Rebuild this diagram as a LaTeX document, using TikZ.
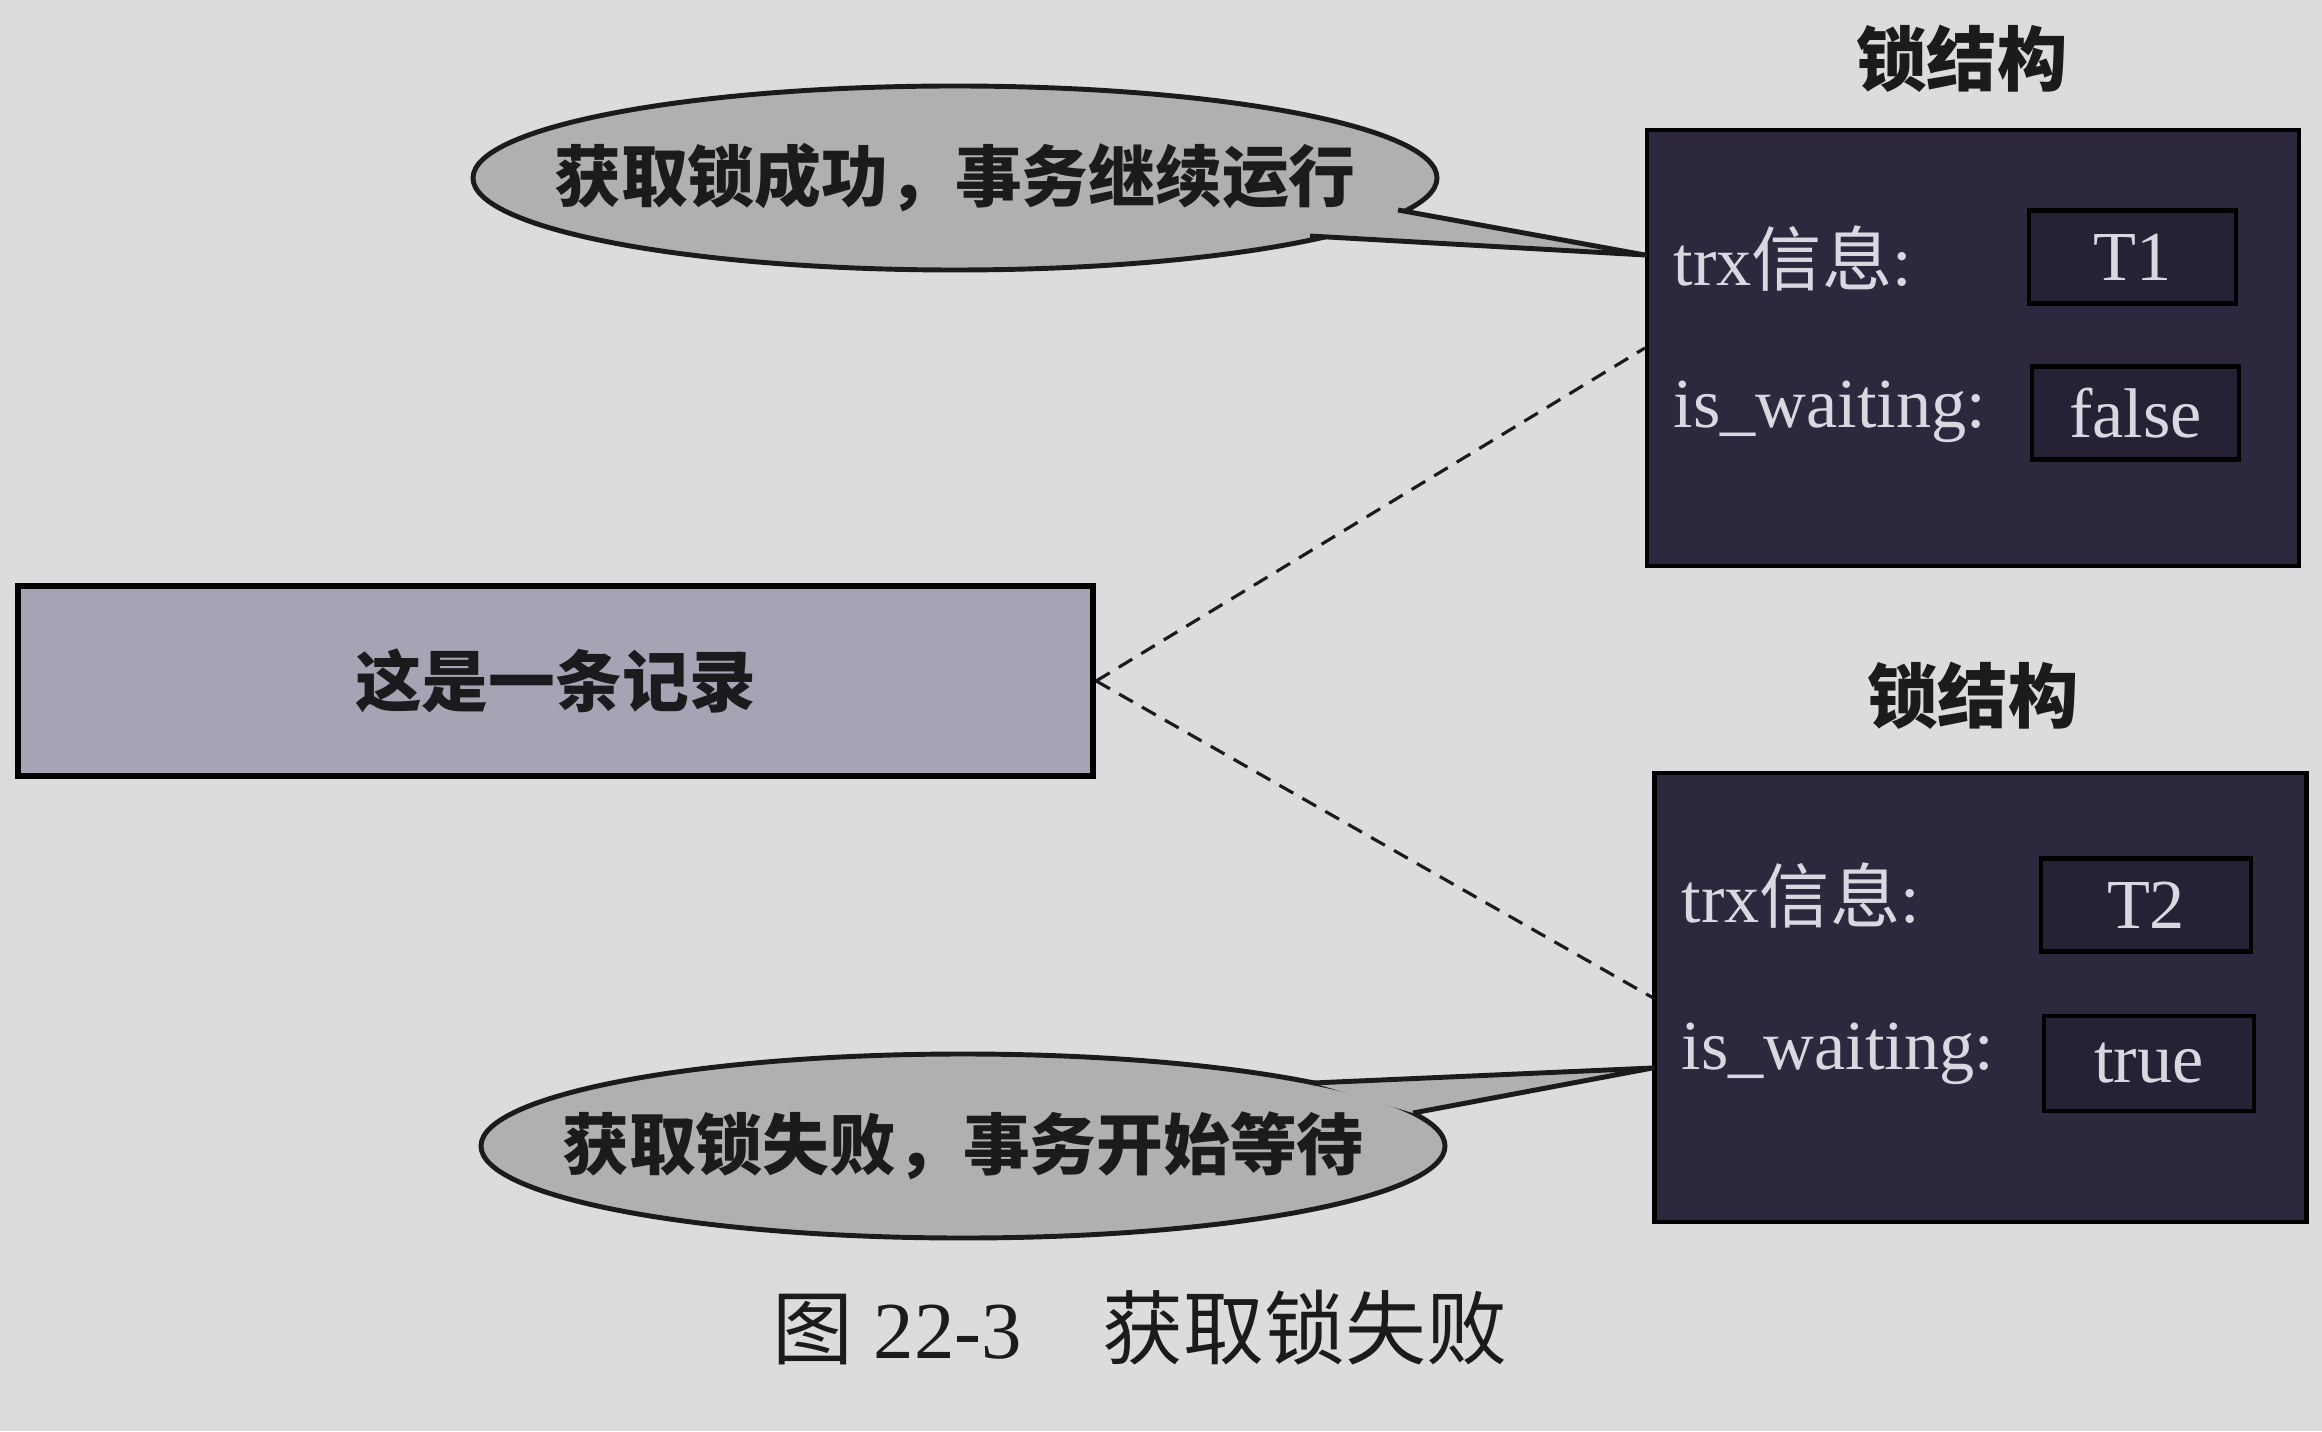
\documentclass[tikz,border=0pt]{standalone}
\usepackage{fontspec}
\setmainfont{Liberation Serif}
\newfontfamily\cjk{Noto Sans CJK SC}
\usetikzlibrary{calc, shapes.geometric, positioning}

\definecolor{paper}{RGB}{222,219,222}
\definecolor{lockfill}{RGB}{46,40,62}
\definecolor{slotfill}{RGB}{38,33,52}
\definecolor{locktext}{RGB}{218,215,224}
\definecolor{recfill}{RGB}{168,163,180}
\definecolor{bubfill}{RGB}{178,175,178}
\definecolor{ink}{RGB}{28,26,28}

\begin{document}
\begin{tikzpicture}[
    lockbox/.style={draw=black, line width=1.2pt, fill=lockfill, minimum width=6.52cm, minimum height=4.36cm, inner sep=0},
    slot/.style={draw=black, line width=1.3pt, fill=slotfill, minimum width=2.07cm, minimum height=0.93cm, inner sep=0, text=locktext, font=\fontsize{20}{20}\selectfont},
    field/.style={anchor=west, inner sep=0, text=locktext, font=\fontsize{20}{20}\selectfont},
    locktitle/.style={font=\cjk\bfseries\fontsize{20}{20}\selectfont, text=ink},
    record/.style={draw=black, line width=1.8pt, fill=recfill, minimum width=10.75cm, minimum height=1.90cm, inner sep=0, text=ink, font=\cjk\bfseries\fontsize{19}{19}\selectfont},
    bubble/.style={ellipse, draw=ink, line width=1.4pt, fill=bubfill, minimum width=9.64cm, minimum height=1.84cm, inner sep=0},
    bubtext/.style={font=\cjk\bfseries\fontsize{19}{19}\selectfont, text=ink},
    tail/.style={draw=ink, line width=1.4pt, line join=round},
    link/.style={draw=ink, line width=0.9pt, dash pattern=on 4.5pt off 3pt}
]

    % ==========================================
    % PAGE
    % ==========================================
    \fill[paper] (0,0) rectangle (23.22,14.31);
    \useasboundingbox (0,0) rectangle (23.22,14.31);

    % ==========================================
    % RECORD (LEFT)
    % ==========================================
    \node[record] (rec) at (5.555,7.50) {这是一条记录};

    % ==========================================
    % LOCK STRUCTURE T1 (TOP RIGHT)
    % ==========================================
    \node[locktitle] (titleA) at (19.62,13.72) {锁结构};
    \node[lockbox] (lockA) at (19.73,10.83) {};
    \node[field] (trxA) at (16.73,11.72) {trx{\cjk 信息}:};
    \node[field] (waitA) at (16.73,10.19) {is\_waiting:};
    \node[slot] (trxvalA) at (21.325,11.74) {T1};
    \node[slot] (waitvalA) at (21.355,10.18) {false};

    % ==========================================
    % LOCK STRUCTURE T2 (BOTTOM RIGHT)
    % ==========================================
    \node[locktitle] (titleB) at (19.73,7.35) {锁结构};
    \node[lockbox, minimum height=4.49cm] (lockB) at (19.805,4.335) {};
    \node[field] (trxB) at (16.81,5.35) {trx{\cjk 信息}:};
    \node[field] (waitB) at (16.81,3.77) {is\_waiting:};
    \node[slot, minimum width=2.1cm] (trxvalB) at (21.46,5.26) {T2};
    \node[slot, minimum width=2.1cm, minimum height=0.95cm] (waitvalB) at (21.49,3.675) {true};

    % Dashed links from the record to both locks
    \draw[link] (rec.east) -- (lockA.west);
    \draw[link] (rec.east) -- (lockB.west);

    % ==========================================
    % CALLOUTS
    % ==========================================
    % Success bubble, tail pointing at the trx line of T1
    \node[bubble] (okbub) at (9.55,12.53) {};
    \coordinate (tipA) at ($(lockA.west |- trxA)+(0,0.04)$);
    \coordinate (okhi) at ($(okbub.center)+(4.43,-0.32)$);
    \coordinate (oklo) at ($(okbub.center)+(3.55,-0.58)$);
    \fill[bubfill] (okhi) -- (tipA) -- (oklo) -- cycle;
    \draw[tail] (okhi) -- (tipA) -- (oklo);
    \node[bubtext] at (okbub) {获取锁成功，事务继续运行};

    % Failure bubble, tail pointing at the is_waiting line of T2
    \node[bubble] (failbub) at (9.63,2.85) {};
    \coordinate (tipB) at ($(lockB.west |- waitB)+(0,-0.14)$);
    \coordinate (failhi) at ($(failbub.center)+(3.50,0.63)$);
    \coordinate (faillo) at ($(failbub.center)+(4.50,0.33)$);
    \fill[bubfill] (failhi) -- (tipB) -- (faillo) -- cycle;
    \draw[tail] (failhi) -- (tipB) -- (faillo);
    \node[bubtext] at (failbub) {获取锁失败，事务开始等待};

    % ==========================================
    % CAPTION
    % ==========================================
    \node[text=ink, font=\fontsize{23}{23}\selectfont] (cap) at (11.40,1.03) {{\cjk 图} 22-3\hspace{1em}{\cjk 获取锁失败}};

\end{tikzpicture}
\end{document}
